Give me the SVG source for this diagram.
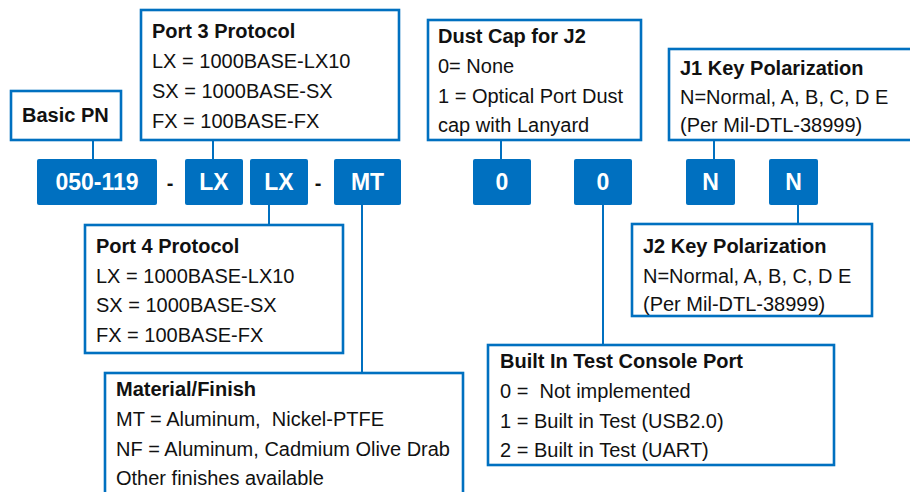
<svg xmlns="http://www.w3.org/2000/svg" width="910" height="492" viewBox="0 0 910 492">
<style>
.box{fill:#fff;stroke:#0070C0;stroke-width:2.6}
.code{fill:#0070C0}
.conn{stroke:#0070C0;stroke-width:2;fill:none}
text{font-family:"Liberation Sans",Arial,sans-serif;fill:#111}
.t{font-size:20px;font-weight:bold}
.l{font-size:20px}
.c{font-size:23px;font-weight:bold;fill:#fff;text-anchor:middle}
.d{font-size:20px;font-weight:bold;text-anchor:middle}
</style>
<rect width="910" height="492" fill="#fff"/>
<g id="connectors">
<line class="conn" x1="93" y1="141" x2="93" y2="160"/>
<line class="conn" x1="213" y1="141" x2="213" y2="160"/>
<line class="conn" x1="501" y1="141" x2="501" y2="160"/>
<line class="conn" x1="714" y1="141" x2="714" y2="160"/>
<line class="conn" x1="269" y1="204" x2="269" y2="225"/>
<line class="conn" x1="362" y1="204" x2="362" y2="373"/>
<line class="conn" x1="603" y1="204" x2="603" y2="345"/>
<line class="conn" x1="798" y1="204" x2="798" y2="224"/>
</g>
<g id="basic-pn">
<rect class="box" x="11" y="91" width="110" height="49"/>
<text class="t" x="22" y="122">Basic PN</text>
</g>
<g id="port3">
<rect class="box" x="141" y="10" width="258" height="130"/>
<text class="t" x="152" y="38">Port 3 Protocol</text>
<text class="l" x="152" y="68">LX = 1000BASE-LX10</text>
<text class="l" x="152" y="98">SX = 1000BASE-SX</text>
<text class="l" x="152" y="128">FX = 100BASE-FX</text>
</g>
<g id="dustcap">
<rect class="box" x="428" y="20" width="213" height="120"/>
<text class="t" x="438" y="43">Dust Cap for J2</text>
<text class="l" x="438" y="73">0= None</text>
<text class="l" x="438" y="103">1 = Optical Port Dust</text>
<text class="l" x="438" y="132">cap with Lanyard</text>
</g>
<g id="j1">
<rect class="box" x="669" y="49" width="260" height="91"/>
<text class="t" x="680" y="75">J1 Key Polarization</text>
<text class="l" x="680" y="104">N=Normal, A, B, C, D E</text>
<text class="l" x="680" y="132">(Per Mil-DTL-38999)</text>
</g>
<g id="pn-base">
<rect class="code" x="37" y="159" width="120" height="46" rx="2"/>
<text class="c" x="97" y="190">050-119</text>
</g>
<text class="d" x="170" y="190">-</text>
<g id="pn-lx3">
<rect class="code" x="185" y="159" width="58" height="46" rx="2"/>
<text class="c" x="214" y="190">LX</text>
</g>
<g id="pn-lx4">
<rect class="code" x="250" y="159" width="58" height="46" rx="2"/>
<text class="c" x="279" y="190">LX</text>
</g>
<text class="d" x="318" y="190">-</text>
<g id="pn-mt">
<rect class="code" x="334" y="159" width="67" height="46" rx="2"/>
<text class="c" x="367.5" y="190">MT</text>
</g>
<g id="pn-dust">
<rect class="code" x="473" y="159" width="58" height="46" rx="2"/>
<text class="c" x="502" y="190">0</text>
</g>
<g id="pn-bit">
<rect class="code" x="574" y="159" width="58" height="46" rx="2"/>
<text class="c" x="603" y="190">0</text>
</g>
<g id="pn-j1">
<rect class="code" x="686" y="159" width="49" height="46" rx="2"/>
<text class="c" x="710.5" y="190">N</text>
</g>
<g id="pn-j2">
<rect class="code" x="769" y="159" width="49" height="46" rx="2"/>
<text class="c" x="793.5" y="190">N</text>
</g>
<g id="port4">
<rect class="box" x="85" y="225" width="258" height="128"/>
<text class="t" x="96" y="253">Port 4 Protocol</text>
<text class="l" x="96" y="283">LX = 1000BASE-LX10</text>
<text class="l" x="96" y="312">SX = 1000BASE-SX</text>
<text class="l" x="96" y="342">FX = 100BASE-FX</text>
</g>
<g id="j2">
<rect class="box" x="632" y="224" width="240" height="92"/>
<text class="t" x="643" y="253">J2 Key Polarization</text>
<text class="l" x="643" y="283">N=Normal, A, B, C, D E</text>
<text class="l" x="643" y="311">(Per Mil-DTL-38999)</text>
</g>
<g id="bit">
<rect class="box" x="488" y="345" width="346" height="120"/>
<text class="t" x="500" y="368">Built In Test Console Port</text>
<text class="l" x="500" y="398" xml:space="preserve">0 =  Not implemented</text>
<text class="l" x="500" y="428">1 = Built in Test (USB2.0)</text>
<text class="l" x="500" y="457">2 = Built in Test (UART)</text>
</g>
<g id="material">
<rect class="box" x="105" y="373" width="358" height="130"/>
<text class="t" x="116" y="396">Material/Finish</text>
<text class="l" x="116" y="426" xml:space="preserve">MT = Aluminum,  Nickel-PTFE</text>
<text class="l" x="116" y="456">NF = Aluminum, Cadmium Olive Drab</text>
<text class="l" x="116" y="485">Other finishes available</text>
</g>
</svg>
